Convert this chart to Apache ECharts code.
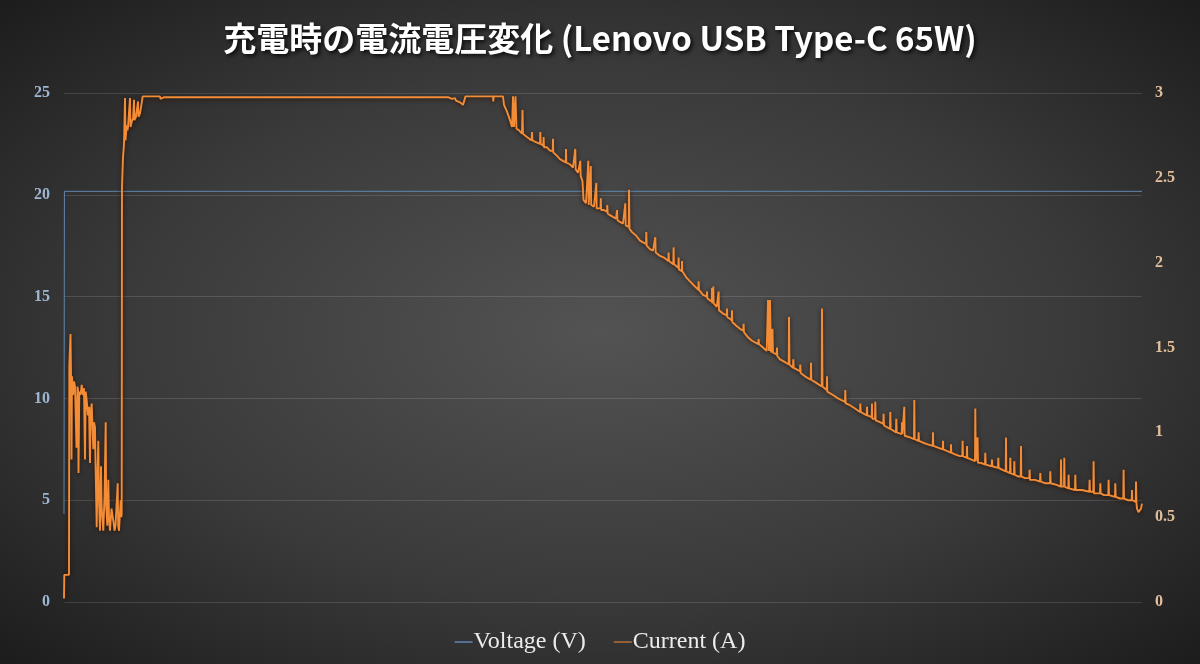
<!DOCTYPE html>
<html><head><meta charset="utf-8">
<script src="https://cdn.jsdelivr.net/npm/echarts@6/dist/echarts.min.js"></script>
<style>html,body{margin:0;padding:0;background:#2a2a2a}#c{width:1200px;height:664px}</style>
</head><body><div id="c"></div>
<script>
const titleText = '充電時の電流電圧変化 (Lenovo USB Type-C 65W)';
const seriesNames = ['Voltage (V)', 'Current (A)'];
const leftTicks = [0, 5, 10, 15, 20, 25];
const rightTicks = [0, 0.5, 1, 1.5, 2, 2.5, 3];
const timeSpan = 1078;

// [time index, volts]
const voltagePts = [[0, 4.32], [0.4, 20.17], [1078, 20.17]];

// [time index, amps]
const currentPts = [
 [0,0.02],[0.3,0.16],[5,0.16],[5.3,1.39],[6.5,1.58],[7,1.35],[7.5,0.84],[8,1.33],[9,1.22],[10,1.30],[11,1.27],[12.5,0.91],
 [13.5,1.27],[14,1.25],[14.5,0.76],[15.3,1.24],[16.5,1.22],[17.7,1.28],[19,1.22],[20,1.26],[21,0.84],[21.7,1.24],[22.7,1.19],
 [24,1.10],[25,1.15],[26,0.82],[26.7,1.12],[27.7,1.17],[29.3,0.90],[30,1.06],[31,1.03],[31.5,0.82],[32.7,0.44],[33.5,0.75],
 [34.3,0.95],[35,0.60],[36,0.42],[37,0.80],[37.7,0.55],[39.3,0.42],[40.5,0.62],[41.7,1.06],[42.2,0.56],[43.3,0.45],[44.3,0.72],
 [45,0.50],[46,0.42],[47.5,0.55],[49.3,0.48],[50.5,0.42],[51.5,0.45],[53.7,0.70],[54.2,0.45],[55,0.42],[56.7,0.60],[57.3,0.50],[57.7,0.52],
 [58,2.45],[59,2.62],[60,2.70],[61,2.97],[61.5,2.72],[62.7,2.81],[63.5,2.78],[64,2.80],[66,2.97],[66.5,2.80],[67.7,2.83],[69,2.85],
 [70,2.96],[70.5,2.84],[72,2.86],[74,2.95],[74.5,2.86],[76,2.88],[77.7,2.89],[78.7,2.98],[96,2.98],[96.5,2.965],[100,2.975],
 [384,2.975],[388,2.965],[390,2.96],[391,2.97],[392,2.955],[394,2.96],[396,2.945],[398,2.95],[399,2.93],[400,2.935],[401,2.92],
 [401.5,2.98],[429,2.98],[429.3,2.95],[429.7,2.98],
 [439,2.98],[440,2.93],[443,2.89],[446,2.84],[448,2.80],[449,2.98],[450,2.80],[451.5,2.98],[452.5,2.79],[455,2.78],[458,2.76],
 [458.5,2.90],[459,2.76],[463,2.74],[467.5,2.72],[468,2.77],[468.5,2.72],[472,2.71],[476,2.70],[476.3,2.77],[476.7,2.70],
 [479.3,2.69],[479.6,2.74],[480,2.68],[483,2.68],[486,2.66],[488.7,2.66],[489,2.73],[489.3,2.65],[493,2.63],[496,2.61],
 [499,2.60],[501.7,2.59],[502,2.67],[502.3,2.59],[506,2.58],[509,2.56],[511,2.56],[511.3,2.67],[511.7,2.55],[514,2.53],
 [516,2.52],[516.3,2.60],[516.7,2.51],[518.5,2.48],[519.5,2.37],[522,2.35],[524,2.35],[524.3,2.60],[524.7,2.34],[526.5,2.34],
 [526.8,2.57],[527.2,2.34],[530,2.33],[532,2.33],[532.3,2.47],[532.7,2.32],[536.5,2.32],[536.8,2.38],[537.2,2.31],[540,2.31],
 [543,2.30],[543.3,2.34],[543.7,2.29],[546,2.28],[549,2.27],[552,2.26],[553,2.31],[553.5,2.25],[556,2.24],[559,2.23],[561,2.23],
 [561.3,2.35],[561.7,2.22],[564.7,2.21],[565,2.43],[565.5,2.20],[568,2.18],[572,2.16],[576,2.13],[579,2.12],[582,2.11],
 [582.3,2.18],[582.7,2.10],[586,2.08],[589,2.07],[591,2.07],[591.3,2.15],[591.7,2.06],[596,2.04],[600,2.03],[604.3,2.01],
 [604.6,2.06],[605,2.01],[609.3,1.99],[609.6,2.09],[610,1.99],[614.3,1.97],[614.6,2.03],[615,1.96],[617.7,1.95],[618,2.01],
 [618.3,1.95],[622.7,1.91],[626,1.89],[629.3,1.87],[634.3,1.84],[634.6,1.89],[635,1.84],[639,1.81],[642.7,1.80],[643,1.83],
 [643.3,1.79],[647.7,1.77],[648,1.85],[648.5,1.76],[649.3,1.86],[649.7,1.76],[652.7,1.74],[654.3,1.73],[654.6,1.83],[655,1.72],
 [659,1.70],[662.7,1.69],[663,1.73],[663.3,1.68],[667.7,1.66],[668,1.72],[668.3,1.65],[672,1.63],[676,1.61],[679.3,1.60],
 [679.6,1.64],[680,1.59],[684,1.56],[688,1.54],[694.3,1.52],[694.6,1.55],[695,1.52],[699,1.50],[702.7,1.48],[704,1.78],
 [705,1.48],[706,1.78],[707,1.47],[708.5,1.61],[709,1.47],[712.7,1.46],[713,1.50],[713.3,1.45],[716,1.43],[719.3,1.42],
 [722,1.41],[724.7,1.40],[725,1.68],[725.5,1.40],[729,1.38],[729.3,1.43],[729.7,1.38],[733,1.37],[736,1.36],[736.3,1.40],
 [736.7,1.35],[741,1.33],[746.7,1.31],[747,1.41],[747.3,1.31],[752.7,1.29],[757.7,1.27],[758,1.73],[758.5,1.27],[762.7,1.25],
 [763,1.33],[763.3,1.24],[769,1.22],[774,1.20],[781,1.18],[781.3,1.25],[781.7,1.17],[786,1.16],[791,1.14],[796,1.12],
 [796.3,1.17],[796.7,1.12],[802.7,1.10],[803,1.15],[803.3,1.10],[807.7,1.09],[808,1.17],[808.3,1.08],[811,1.08],[811.3,1.18],
 [811.7,1.07],[816,1.06],[819.3,1.05],[819.6,1.11],[820,1.04],[826,1.02],[826.3,1.12],[826.7,1.02],[832,1.00],[832.3,1.08],
 [832.7,1.00],[837.7,0.99],[838,1.06],[838.3,0.99],[840,0.98],[840.3,1.15],[840.7,0.98],[846,0.97],[850,0.96],[850.3,1.19],
 [850.7,0.96],[854.3,0.95],[854.6,1.00],[855,0.95],[859,0.94],[863,0.93],[868.7,0.92],[869,1.00],[869.3,0.92],[874,0.91],
 [878.7,0.90],[879,0.95],[879.3,0.90],[883,0.89],[886.7,0.88],[887,0.93],[887.3,0.88],[891,0.87],[896,0.86],[898.3,0.86],
 [898.6,0.95],[899,0.86],[902.7,0.85],[903,0.92],[903.3,0.85],[907,0.84],[911,0.83],[911.3,1.14],[911.8,0.83],[913.3,0.83],
 [913.6,0.97],[914,0.82],[917,0.82],[921,0.81],[921.3,0.88],[921.7,0.81],[927.7,0.80],[928,0.84],[928.3,0.80],[934,0.79],
 [934.3,0.85],[934.7,0.79],[938,0.78],[941.7,0.77],[942,0.97],[942.3,0.77],[946,0.76],[946.3,0.85],[946.7,0.76],[950,0.75],
 [950.3,0.83],[950.7,0.75],[954,0.74],[956.7,0.74],[957,0.92],[957.3,0.74],[961,0.73],[965.3,0.73],[965.6,0.78],[966,0.72],
 [971,0.72],[976,0.71],[976.3,0.76],[976.7,0.71],[981,0.70],[986,0.70],[986.3,0.77],[986.7,0.70],[992.7,0.69],[996.7,0.68],
 [997,0.84],[997.5,0.68],[1000,0.68],[1000.3,0.85],[1000.7,0.68],[1004.3,0.67],[1004.6,0.75],[1005,0.67],[1011,0.66],
 [1011.3,0.75],[1011.7,0.66],[1018,0.66],[1025.3,0.65],[1025.6,0.72],[1026,0.65],[1029.3,0.65],[1029.6,0.83],[1030,0.64],
 [1036,0.64],[1036.3,0.70],[1036.7,0.64],[1040,0.63],[1044.3,0.63],[1044.6,0.72],[1045,0.63],[1051,0.62],[1051.3,0.70],
 [1051.7,0.62],[1056,0.61],[1059.3,0.61],[1059.6,0.78],[1060,0.61],[1064,0.60],[1067.7,0.60],[1068,0.66],[1068.3,0.60],
 [1071.7,0.59],[1072,0.71],[1072.5,0.58],[1073,0.55],[1074.5,0.53],[1076,0.54],[1077,0.55],[1078,0.58]
];

const chart = echarts.init(document.getElementById('c'), null, {renderer: 'canvas'});
const labelFont = 'Liberation Serif';
chart.setOption({
  animation: false,
  backgroundColor: 'transparent',
  graphic: [{
    type: 'rect', x: 0, y: 0, scaleY: 664 / 1200, z: -100, silent: true,
    shape: {x: 0, y: 0, width: 1200, height: 1200},
    style: {fill: {type: 'radial', x: 0.5, y: 0.5, r: 0.72, colorStops: [
      {offset: 0, color: '#535353'}, {offset: 0.55, color: '#3a3a3a'}, {offset: 1, color: '#1b1b1b'}]}}
  }],
  title: {
    text: titleText, left: 'center', top: 17,
    textStyle: {fontFamily: 'Noto Sans CJK JP', fontWeight: 'bold', fontSize: 33, color: '#ffffff',
      textShadowColor: 'rgba(0,0,0,0.85)', textShadowBlur: 4, textShadowOffsetX: 2, textShadowOffsetY: 2}
  },
  legend: {
    bottom: 5, left: 'center', itemGap: 28, itemWidth: 18, itemHeight: 1.5, icon: 'rect',
    data: seriesNames,
    textStyle: {fontFamily: labelFont, fontSize: 24, color: '#ececec', padding: [0, 0, 0, -4]}
  },
  grid: {left: 64, right: 58, top: 93, bottom: 62},
  xAxis: {type: 'value', min: 0, max: timeSpan, show: false},
  yAxis: [{
    type: 'value', min: leftTicks[0], max: leftTicks[leftTicks.length - 1], interval: 5,
    axisLine: {show: false}, axisTick: {show: false},
    splitLine: {lineStyle: {color: 'rgba(255,255,255,0.13)', width: 1}},
    axisLabel: {color: '#9db6d2', fontFamily: labelFont, fontWeight: 'bold', fontSize: 16, margin: 14}
  }, {
    type: 'value', min: rightTicks[0], max: rightTicks[rightTicks.length - 1], interval: 0.5, position: 'right',
    axisLine: {show: false}, axisTick: {show: false}, splitLine: {show: false},
    axisLabel: {color: '#e2bf9a', fontFamily: labelFont, fontWeight: 'bold', fontSize: 16, margin: 13}
  }],
  series: [{
    name: seriesNames[0], type: 'line', yAxisIndex: 0, data: voltagePts, showSymbol: false, symbol: 'none',
    lineStyle: {color: '#5f87b0', width: 1}, itemStyle: {color: '#5f87b0'}, z: 3
  }, {
    name: seriesNames[1], type: 'line', yAxisIndex: 1, data: currentPts, showSymbol: false, symbol: 'none',
    lineStyle: {color: '#f28c36', width: 1.9, shadowColor: 'rgba(40,15,0,0.9)', shadowBlur: 4, shadowOffsetY: 1},
    itemStyle: {color: '#b9713a'}, z: 4
  }]
});
</script></body></html>
